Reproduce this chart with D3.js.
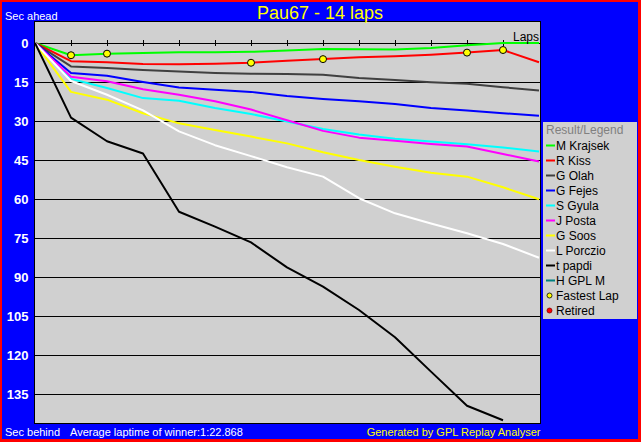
<!DOCTYPE html>
<html>
<head>
<meta charset="utf-8">
<script src="https://cdn.jsdelivr.net/npm/d3@7"></script>
<style>
  html, body { margin: 0; padding: 0; background: #ff0000; }
  svg { display: block; }
  text { font-family: "Liberation Sans", Arial, sans-serif; }
</style>
</head>
<body>
<svg id="chart" width="641" height="442"></svg>
<script>
// ---- data ----
const title = "Pau67 - 14 laps";
const lapNumbers = [0, 1, 2, 3, 4, 5, 6, 7, 8, 9, 10, 11, 12, 13, 14];
const yTicks = [0, 15, 30, 45, 60, 75, 90, 105, 120, 135];
const drivers = ["M Krajsek", "R Kiss", "G Olah", "G Fejes", "S Gyula", "J Posta", "G Soos", "L Porczio", "t papdi", "H GPL M"];
// seconds behind a winner-average-pace reference, per lap
const krajsek = [0, 4.7, 4.1, 3.8, 3.6, 3.6, 3.4, 2.9, 2.3, 2.4, 2.5, 1.9, 0.9, 0, 0];
const kiss    = [0, 7.0, 7.4, 8.1, 8.2, 8.0, 7.6, 6.8, 6.2, 5.5, 5.1, 4.5, 3.7, 2.7, 7.4];
const olah    = [0, 9.0, 9.6, 10.4, 11.0, 11.5, 11.8, 11.9, 12.2, 13.5, 14.2, 15.1, 15.7, 17.0, 18.3];
const fejes   = [0, 11.5, 12.6, 15.0, 17.1, 18.0, 18.8, 20.4, 21.5, 22.4, 23.5, 25.0, 26.0, 27.0, 28.0];
const gyula   = [0, 13.8, 17.3, 21.2, 22.2, 25.0, 27.3, 30.2, 33.1, 35.2, 36.8, 37.9, 38.9, 40.2, 41.7];
const posta   = [0, 13.0, 14.7, 17.8, 19.9, 22.4, 25.6, 29.7, 33.8, 36.4, 37.6, 38.8, 39.8, 42.7, 45.6];
const soos    = [0, 18.8, 21.8, 27.0, 30.9, 33.5, 36.0, 38.6, 42.0, 45.0, 47.6, 49.9, 51.4, 55.5, 60.1];
const porczio = [0, 14.6, 19.9, 25.9, 34.0, 39.3, 43.5, 47.8, 51.4, 59.7, 65.5, 69.4, 73.2, 77.3, 82.6];
const papdi   = [0, 28.7, 37.8, 42.5, 64.9, 70.6, 76.7, 86.3, 93.7, 102.7, 113.2, 126.4, 139.5, 145.1];
const gplm    = [];
const seriesValues = [krajsek, kiss, olah, fejes, gyula, posta, soos, porczio, papdi, gplm];
const fastestLaps = [
  { driver: 0, lap: 1 }, { driver: 0, lap: 2 },
  { driver: 1, lap: 6 }, { driver: 1, lap: 8 }, { driver: 1, lap: 12 }, { driver: 1, lap: 13 }
];
const averageLapText = "Average laptime of winner:1:22.868";

// ---- styles ----
const palette = ["#00ff00", "#ff0000", "#404040", "#0000ff", "#00ffff", "#ff00ff", "#ffff00", "#ffffff", "#000000", "#008080"];

const svg = d3.select("#chart");
const W = 641, H = 442;
const plot = { left: 35, right: 540, top: 22, bottom: 423 };

// backgrounds
svg.append("rect").attr("x", 0).attr("y", 0).attr("width", W).attr("height", H).attr("fill", "#ff0000");
svg.append("rect").attr("x", 2).attr("y", 2).attr("width", 636).attr("height", 437).attr("fill", "#0000ff");
svg.append("rect").attr("x", plot.left).attr("y", plot.top)
  .attr("width", plot.right - plot.left).attr("height", plot.bottom - plot.top)
  .attr("fill", "#d0d0d0");

const x = d3.scaleLinear().domain([0, 14]).range([35, 539]);
const y = d3.scaleLinear().domain([0, 135]).range([43, 394]);

// grid lines
svg.append("g").selectAll("line").data(yTicks).join("line")
  .attr("x1", plot.left).attr("x2", plot.right)
  .attr("y1", d => Math.round(y(d)) + 0.5).attr("y2", d => Math.round(y(d)) + 0.5)
  .attr("stroke", "#000").attr("stroke-width", 1);

// lap ticks on the zero line
svg.append("g").selectAll("line").data(lapNumbers.filter(l => l > 0 && l < 14)).join("line")
  .attr("x1", d => Math.round(x(d)) + 0.5).attr("x2", d => Math.round(x(d)) + 0.5)
  .attr("y1", y(0) - 3).attr("y2", y(0) + 3)
  .attr("stroke", "#000").attr("stroke-width", 1);

// y labels
svg.append("g").selectAll("text").data(yTicks).join("text")
  .attr("x", 28.5).attr("y", d => y(d)).attr("dy", "0.36em")
  .attr("text-anchor", "end").attr("fill", "#fff")
  .attr("font-size", 13).attr("font-weight", "bold")
  .text(d => d);

// series lines
const clip = svg.append("clipPath").attr("id", "plotclip").append("rect")
  .attr("x", plot.left).attr("y", plot.top).attr("width", plot.right - plot.left).attr("height", plot.bottom - plot.top);
const line = d3.line().x((d, i) => x(lapNumbers[i])).y(d => y(d));
const gLines = svg.append("g").attr("clip-path", "url(#plotclip)");
seriesValues.forEach((vals, i) => {
  if (!vals.length) return;
  gLines.append("path").datum(vals)
    .attr("d", line).attr("fill", "none")
    .attr("stroke", palette[i]).attr("stroke-width", 2)
    .attr("stroke-linejoin", "round");
});

// fastest-lap markers
svg.append("g").selectAll("circle").data(fastestLaps).join("circle")
  .attr("cx", d => x(lapNumbers[d.lap])).attr("cy", d => y(seriesValues[d.driver][d.lap]))
  .attr("r", 3.5).attr("fill", "#ffff00").attr("stroke", "#000").attr("stroke-width", 1);

// plot border
svg.append("rect").attr("x", plot.left - 0.5).attr("y", plot.top - 0.5)
  .attr("width", plot.right - plot.left + 1).attr("height", plot.bottom - plot.top + 1)
  .attr("fill", "none").attr("stroke", "#000").attr("stroke-width", 1);

// texts
svg.append("text").attr("x", 320).attr("y", 18.5).attr("text-anchor", "middle")
  .attr("fill", "#ffff00").attr("font-size", 18).text(title);
svg.append("text").attr("x", 5).attr("y", 20).attr("fill", "#fff").attr("font-size", 11).text("Sec ahead");
svg.append("text").attr("x", 539).attr("y", 40.5).attr("text-anchor", "end")
  .attr("fill", "#000").attr("font-size", 12).text("Laps");
svg.append("text").attr("x", 5).attr("y", 435.5).attr("fill", "#fff").attr("font-size", 11).text("Sec behind");
svg.append("text").attr("x", 70).attr("y", 435.5).attr("fill", "#fff").attr("font-size", 11).text(averageLapText);
svg.append("text").attr("x", 540.5).attr("y", 435.5).attr("text-anchor", "end")
  .attr("fill", "#ffff00").attr("font-size", 11).text("Generated by GPL Replay Analyser");

// legend
const lg = svg.append("g");
lg.append("rect").attr("x", 543).attr("y", 122).attr("width", 94).attr("height", 197).attr("fill", "#d0d0d0");
lg.append("text").attr("x", 546).attr("y", 134).attr("fill", "#808080").attr("font-size", 12).text("Result/Legend");
const items = drivers.map((d, i) => ({ label: d, kind: "line", color: palette[i] }))
  .concat([{ label: "Fastest Lap", kind: "dot", color: "#ffff00", stroke: "#000" },
           { label: "Retired", kind: "dot", color: "#ff0000", stroke: "#800000" }]);
const li = lg.selectAll("g.item").data(items).join("g").attr("class", "item")
  .attr("transform", (d, i) => `translate(0, ${145 + i * 15})`);
li.filter(d => d.kind === "line").append("line")
  .attr("x1", 546).attr("x2", 555).attr("y1", 0.5).attr("y2", 0.5)
  .attr("stroke", d => d.color).attr("stroke-width", 2);
li.filter(d => d.kind === "dot").append("circle")
  .attr("cx", 549.5).attr("cy", 0.5).attr("r", 2.5)
  .attr("fill", d => d.color).attr("stroke", d => d.stroke).attr("stroke-width", 0.8);
li.append("text").attr("x", 556).attr("y", 4.5).attr("fill", "#000").attr("font-size", 12).text(d => d.label);
</script>
</body>
</html>
